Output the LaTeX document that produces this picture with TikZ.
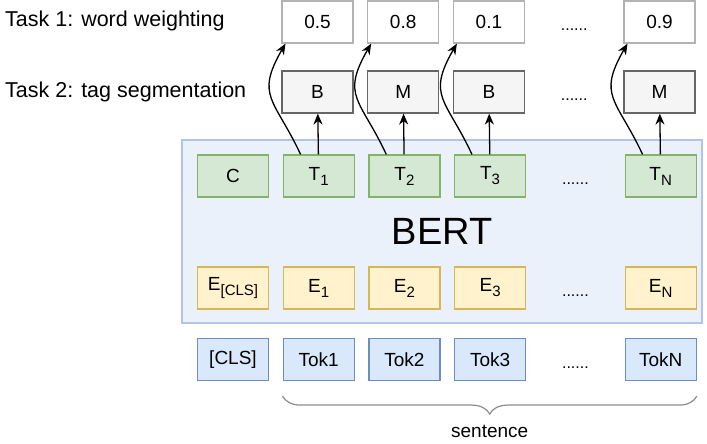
\documentclass[tikz,border=0pt]{standalone}
\usepackage{fontspec}
\setmainfont{Liberation Sans}
\usetikzlibrary{positioning}
\usetikzlibrary{arrows.meta}
\usetikzlibrary{decorations.pathreplacing}
\definecolor{weightline}{HTML}{B3B3B3}
\definecolor{tagline}{HTML}{666666}
\definecolor{tagfill}{HTML}{F5F5F5}
\definecolor{tline}{HTML}{82B366}
\definecolor{tfill}{HTML}{D5E8D4}
\definecolor{embline}{HTML}{D6B656}
\definecolor{embfill}{HTML}{FFF2CC}
\definecolor{tokline}{HTML}{6C8EBF}
\definecolor{tokfill}{HTML}{DAE8FC}
\definecolor{bertline}{HTML}{B3C5E6}
\definecolor{bertfill}{HTML}{EBF1FB}
\definecolor{braceline}{HTML}{8C8C8C}
\newcommand{\lowidx}[1]{\raisebox{-5pt}{\fontsize{15}{15}\selectfont #1}}

\begin{document}
\begin{tikzpicture}[
    x=1pt, y=1pt,
    node distance=13.5pt,
    cell/.style={draw,line width=1.2pt,minimum width=71pt,minimum height=42pt,inner sep=0pt,font=\fontsize{19}{21}\selectfont},
    weightbox/.style={cell,draw=weightline,fill=white},
    tagbox/.style={cell,draw=tagline,fill=tagfill},
    outbox/.style={cell,draw=tline,fill=tfill},
    embbox/.style={cell,draw=embline,fill=embfill},
    tokbox/.style={cell,draw=tokline,fill=tokfill},
    dotcell/.style={minimum width=71pt,minimum height=42pt,inner sep=0pt,text height=19pt,text depth=1pt,font=\fontsize{16}{18}\selectfont},
    bertbox/.style={draw=bertline,fill=bertfill,line width=2.6pt,minimum width=520pt,minimum height=183pt,inner sep=0pt,font=\fontsize{38}{40}\selectfont},
    tasklabel/.style={anchor=west,inner sep=0pt,font=\fontsize{21.5}{24}\selectfont},
    arr/.style={-{Stealth[length=11pt,width=9pt]},line width=1.3pt},
    ]
    \useasboundingbox (0,0) rectangle (707,444);

    % encoder block
    \node[bertbox] (bert) at (442,212.5) {BERT};

    % output row
    \node[outbox] (c) at (233,268) {C};
    \node[outbox, right=of c] (t1) {T\lowidx{1}};
    \node[outbox, right=of t1] (t2) {T\lowidx{2}};
    \node[outbox, right=of t2] (t3) {T\lowidx{3}};
    \node[dotcell, right=of t3] (tdots) {......};
    \node[outbox, right=of tdots] (tn) {T\lowidx{N}};

    % embedding row
    \node[embbox] (ecls) at (233,156) {E\lowidx{[CLS]}};
    \node[embbox, right=of ecls] (e1) {E\lowidx{1}};
    \node[embbox, right=of e1] (e2) {E\lowidx{2}};
    \node[embbox, right=of e2] (e3) {E\lowidx{3}};
    \node[dotcell, right=of e3] (edots) {......};
    \node[embbox, right=of edots] (en) {E\lowidx{N}};

    % token row
    \node[tokbox] (cls) at (233,84.5) {[CLS]};
    \node[tokbox, right=of cls] (tok1) {Tok1};
    \node[tokbox, right=of tok1] (tok2) {Tok2};
    \node[tokbox, right=of tok2] (tok3) {Tok3};
    \node[dotcell, right=of tok3] (tokdots) {......};
    \node[tokbox, right=of tokdots] (tokn) {TokN};

    % task 2 row
    \node[tagbox] (g1) at (317.5,352) {B};
    \node[tagbox, right=of g1] (g2) {M};
    \node[tagbox, right=of g2] (g3) {B};
    \node[dotcell, right=of g3] (gdots) {......};
    \node[tagbox, right=of gdots] (gn) {M};

    % task 1 row
    \node[weightbox] (w1) at (317.5,422) {0.5};
    \node[weightbox, right=of w1] (w2) {0.8};
    \node[weightbox, right=of w2] (w3) {0.1};
    \node[dotcell, right=of w3] (wdots) {......};
    \node[weightbox, right=of wdots] (wn) {0.9};

    \node[tasklabel] (task1) at (5,423) {Task 1: word weighting};
    \node[tasklabel] (task2) at (5,352) {Task 2: tag segmentation};

    \foreach \i in {1,2,3,n} {
      \path (t\i) edge[arr] (g\i)
      (t\i.130) edge[arr, out=115, in=240, looseness=1.4] (w\i.214);
    }

    \coordinate (sl) at ([yshift=-15pt]tok1.south west);
    \coordinate (sr) at ([yshift=-15pt]tokn.south east);
    \draw[braceline, line width=1.2pt, decorate, decoration={brace,mirror,amplitude=18pt}]
      (sl) -- (sr) node[midway, yshift=-35pt, text=black, font=\fontsize{19}{21}\selectfont] (sent) {sentence};

  \end{tikzpicture}
\end{document}
